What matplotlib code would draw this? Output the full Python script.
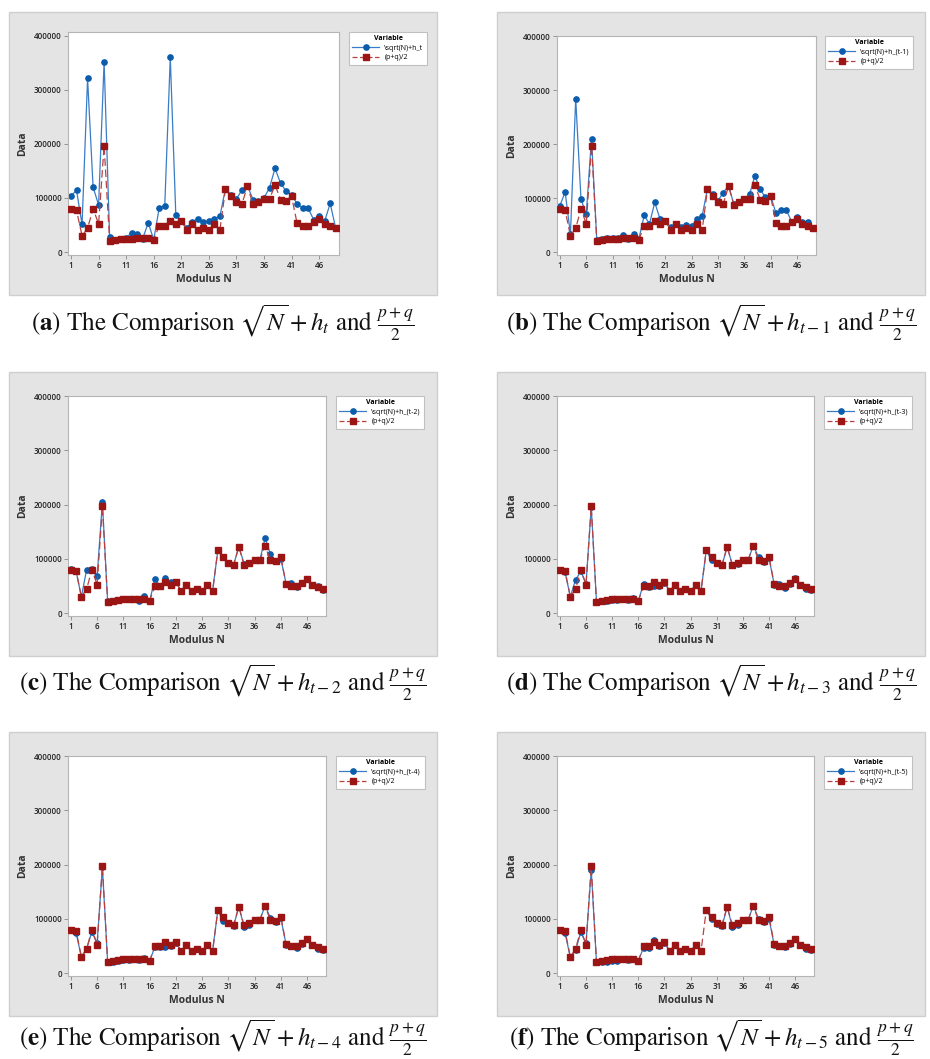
import matplotlib
matplotlib.use('Agg')
import matplotlib.pyplot as plt
import numpy as np
from matplotlib.patches import Rectangle
from matplotlib.lines import Line2D

plt.rcParams['mathtext.fontset'] = 'stix'

N = list(range(1, 50))

pq = [79000, 77000, 30000, 44000, 80000, 52000, 197000, 21000, 22000, 24000,
      25000, 25000, 26000, 26000, 26000, 23000, 49000, 49000, 58000, 51000,
      58000, 40000, 52000, 41000, 45000, 40000, 52000, 41000, 116000, 103000,
      93000, 89000, 122000, 88000, 93000, 98000, 98000, 124000, 97000, 95000,
      103000, 53000, 49000, 49000, 56000, 62000, 52000, 48000, 45000]

h_t = [104000, 114000, 51000, 321000, 120000, 87000, 352000, 28000, 22000, 24000,
       26000, 36000, 33000, 25000, 54000, 23000, 82000, 86000, 360000, 69000,
       58000, 45000, 56000, 62000, 55000, 58000, 62000, 66000, 117000, 106000,
       98000, 115000, 123000, 97000, 95000, 100000, 119000, 155000, 127000, 113000,
       106000, 89000, 81000, 81000, 60000, 66000, 57000, 90000, 44000]

h_t1 = [86000, 111000, 33000, 284000, 98000, 70000, 210000, 22000, 24000, 26000,
        26000, 26000, 31000, 25000, 34000, 25000, 68000, 52000, 92000, 61000,
        58000, 46000, 52000, 47000, 50000, 48000, 61000, 67000, 117000, 108000,
        95000, 110000, 123000, 89000, 93000, 99000, 107000, 141000, 116000, 101000,
        104000, 72000, 77000, 77000, 56000, 64000, 56000, 56000, 44000]

h_t2 = [82000, 77000, 30000, 80000, 81000, 68000, 204000, 22000, 22000, 24000,
        25000, 25000, 26000, 23000, 31000, 23000, 62000, 49000, 64000, 58000,
        58000, 40000, 52000, 41000, 45000, 40000, 52000, 41000, 116000, 103000,
        93000, 89000, 122000, 91000, 93000, 98000, 98000, 138000, 109000, 95000,
        100000, 54000, 55000, 48000, 56000, 63000, 52000, 49000, 43000]

h_t3 = [80000, 75000, 30000, 61000, 77000, 54000, 195000, 21000, 22000, 23000,
        24000, 24000, 26000, 24000, 28000, 22000, 54000, 48000, 49000, 50000,
        56000, 40000, 52000, 41000, 45000, 40000, 52000, 41000, 116000, 97000,
        92000, 88000, 122000, 88000, 91000, 97000, 98000, 124000, 103000, 94000,
        101000, 52000, 54000, 47000, 54000, 64000, 52000, 45000, 43000]

h_t4 = [80000, 74000, 29000, 45000, 76000, 55000, 195000, 20000, 21000, 23000,
        24000, 24000, 26000, 24000, 27000, 22000, 48000, 48000, 48000, 50000,
        56000, 40000, 52000, 41000, 45000, 40000, 52000, 41000, 116000, 96000,
        92000, 87000, 122000, 85000, 88000, 97000, 98000, 124000, 102000, 94000,
        101000, 52000, 50000, 47000, 54000, 62000, 52000, 44000, 43000]

h_t5 = [80000, 73000, 29000, 42000, 75000, 55000, 190000, 20000, 20000, 21000,
        23000, 23000, 25000, 24000, 25000, 22000, 47000, 47000, 60000, 49000,
        56000, 40000, 52000, 41000, 45000, 40000, 52000, np.nan, 116000, 100000,
        90000, 86000, 122000, 84000, 88000, 97000, 98000, 124000, 100000, 94000,
        100000, 51000, 49000, 48000, 54000, 62000, 52000, 44000, 43000]

blue_series = [h_t, h_t1, h_t2, h_t3, h_t4, h_t5]
legend_labels = [r"\sqrt(N)+h_t", r"\sqrt(N)+h_(t-1)", r"\sqrt(N)+h_(t-2)",
                 r"\sqrt(N)+h_(t-3)", r"\sqrt(N)+h_(t-4)", r"\sqrt(N)+h_(t-5)"]
red_label = "(p+q)/2"
letters = ['a', 'b', 'c', 'd', 'e', 'f']
subs = ['t', 't-1', 't-2', 't-3', 't-4', 't-5']
xticks = [1, 6, 11, 16, 21, 26, 31, 36, 41, 46]
yticks = [0, 100000, 200000, 300000, 400000]

W, H = 930, 1059
fig = plt.figure(figsize=(W / 100, H / 100), dpi=100)
fig.patch.set_facecolor('white')


def fx(x):
    return x / W


def fy(y):
    return 1 - y / H


# (frame box, plot box, legend top-left, caption y) in pixels
layouts = [
    ((9, 12, 437, 295), (68, 32, 339, 255), (349, 32), 323),
    ((497, 12, 925, 295), (557, 36, 816, 255), (825, 36), 323),
    ((9, 372, 437, 656), (68, 396, 326, 616), (336, 396), 683),
    ((497, 372, 925, 656), (557, 396, 814, 616), (824, 396), 683),
    ((9, 732, 437, 1016), (68, 756, 326, 976), (336, 756), 1038),
    ((497, 732, 925, 1016), (557, 756, 814, 976), (824, 756), 1038),
]

BLUE = '#0b5cad'
BLUE_L = '#3a7cc6'
RED = '#9c1515'
RED_L = '#b84040'
tick_font = 'Open Sans'

for i, (frame, pbox, lg, cy) in enumerate(layouts):
    x0, y0, x1, y1 = frame
    fig.patches.append(Rectangle((fx(x0), fy(y1)), fx(x1 - x0), (y1 - y0) / H,
                                 transform=fig.transFigure, facecolor='#e4e4e4',
                                 edgecolor='#cfcfcf', linewidth=1.0, zorder=-5))
    px0, py0, px1, py1 = pbox
    ax = fig.add_axes([fx(px0), fy(py1), fx(px1 - px0), (py1 - py0) / H])
    ax.set_zorder(2)
    ax.set_facecolor('white')
    ax.plot(N, blue_series[i], color=BLUE_L, lw=0.9, marker='o', ms=3.8,
            mfc=BLUE, mec=BLUE, zorder=2)
    ax.plot(N, pq, color=RED_L, lw=0.9, ls=(0, (6, 3)), marker='s', ms=4.6,
            mfc=RED, mec=RED, zorder=3)
    ax.set_xlim(0.45, 49.6)
    ax.set_ylim(-5500, 407000 if i == 0 else 400000)
    ax.set_xticks(xticks)
    ax.set_yticks(yticks)
    ax.set_xticklabels([str(t) for t in xticks], fontsize=5.8, family=tick_font,
                       color='#222222', weight='semibold')
    ax.set_yticklabels([str(t) for t in yticks], fontsize=5.8, family=tick_font,
                       color='#222222', weight='semibold')
    ax.tick_params(length=3, width=0.6, color='#888888', pad=1.5)
    for s in ax.spines.values():
        s.set_color('#b5b5b5')
        s.set_linewidth(0.8)
    ax.set_xlabel('Modulus N', fontsize=7.5, family=tick_font, weight='bold',
                  color='#333333', labelpad=3)
    ax.set_ylabel('Data', fontsize=7.5, family=tick_font, weight='bold',
                  color='#333333', labelpad=4)

    handles = [Line2D([], [], color=BLUE_L, lw=0.9, marker='o', ms=3.8,
                      mfc=BLUE, mec=BLUE),
               Line2D([], [], color=RED_L, lw=0.9, ls=(0, (4, 2)), marker='s',
                      ms=4.6, mfc=RED, mec=RED)]
    leg = fig.legend(handles, [legend_labels[i], red_label], loc='upper left',
                     bbox_to_anchor=(fx(lg[0]), fy(lg[1])),
                     bbox_transform=fig.transFigure,
                     title='Variable', fontsize=5.0,
                     title_fontproperties={'size': 5.0, 'weight': 'bold',
                                           'family': tick_font},
                     prop={'family': tick_font, 'size': 5.0},
                     frameon=True, fancybox=False, edgecolor='#c0c0c0',
                     framealpha=1, borderpad=0.5, handlelength=3.8,
                     labelspacing=0.35, borderaxespad=0)
    leg.get_frame().set_linewidth(0.8)
    leg.set_zorder(3)

    cx = (x0 + x1) / 2
    sub = subs[i]
    caption = (r"($\mathbf{" + letters[i] + r"}$) The Comparison "
               r"$\sqrt{N}+h_{" + sub + r"}$ and $\frac{p+q}{2}$")
    fig.text(fx(cx), fy(cy), caption, ha='center', va='center', fontsize=18,
             family='STIXGeneral', color='#111111')

fig.savefig('out.png', dpi=100, facecolor='white')
